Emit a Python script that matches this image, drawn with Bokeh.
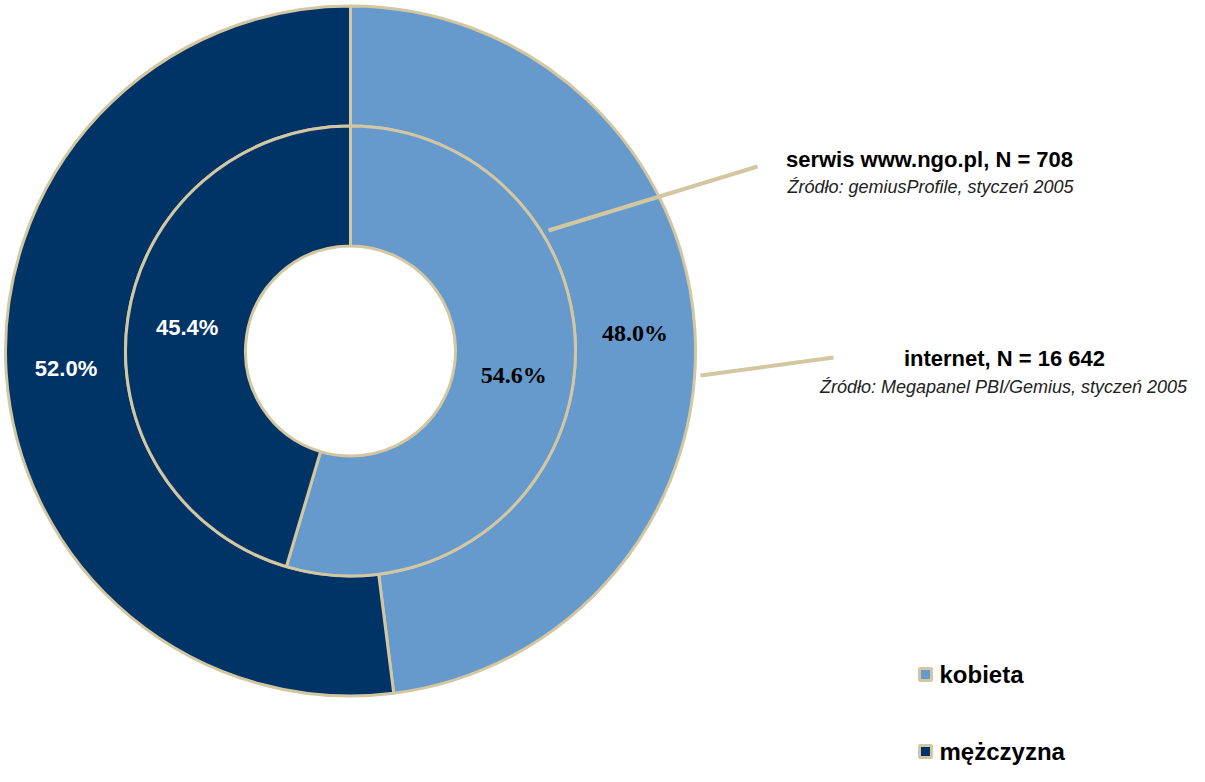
import numpy as np
from bokeh.plotting import figure
from bokeh.models import Range1d, ColumnDataSource
from bokeh.core.properties import value
from bokeh.embed import file_html
from bokeh.resources import INLINE

# ---- data ----
categories = ["kobieta", "mężczyzna"]
colors = ["#6699CC", "#003366"]
internet_pct = [48.0, 52.0]   # outer ring
serwis_pct = [54.6, 45.4]     # inner ring
series_titles = ["serwis www.ngo.pl, N = 708", "internet, N = 16 642"]
series_sources = ["Źródło: gemiusProfile, styczeń 2005",
                  "Źródło: Megapanel PBI/Gemius, styczeń 2005"]

BEIGE = "#D3C7A2"
W, H = 1189, 766
PAGE_H = 782


def Y(py):
    return PAGE_H - py


p = figure(width=W, height=H, output_backend="svg", toolbar_location=None,
           x_range=Range1d(0, W), y_range=Range1d(PAGE_H - H, PAGE_H),
           min_border=0, outline_line_color=None)
p.axis.visible = False
p.grid.visible = False
p.background_fill_color = "white"
p.border_fill_color = "white"

cx, cy = 350, Y(350.5)
r_out, r_mid, r_in = 345, 225, 105


def ring_source(pcts, r0, r1):
    fr = np.array(pcts) / 100.0
    cum = np.concatenate([[0], np.cumsum(fr)])
    start = np.pi / 2 - 2 * np.pi * cum[:-1]
    end = np.pi / 2 - 2 * np.pi * cum[1:]
    mid = (start + end) / 2
    rl = (r0 + r1) / 2
    return ColumnDataSource(dict(
        x=[cx] * len(pcts), y=[cy] * len(pcts), start=start, end=end,
        color=colors, cat=categories,
        lx=cx + rl * np.cos(mid), ly=cy + rl * np.sin(mid),
        lab=[f"{v:.1f}%" for v in pcts]))


outer = ring_source(internet_pct, r_mid, r_out)
inner = ring_source(serwis_pct, r_in, r_mid)

for src, r0, r1 in [(outer, r_mid, r_out), (inner, r_in, r_mid)]:
    p.annular_wedge(x="x", y="y", inner_radius=r0, outer_radius=r1,
                    start_angle="start", end_angle="end", direction="clock",
                    fill_color="color", line_color=BEIGE, line_width=3, source=src)

# percentage labels
for src in (outer, inner):
    d = src.data
    # light wedge: black serif bold
    p.text(x=[d["lx"][0]], y=[d["ly"][0]], text=[d["lab"][0]],
           text_color="black", text_font=value("Liberation Serif"),
           text_font_style="bold", text_font_size="24px",
           text_align="center", text_baseline="middle")
    # dark wedge: white sans bold
    p.text(x=[d["lx"][1]], y=[d["ly"][1]], text=[d["lab"][1]],
           text_color="white", text_font=value("Liberation Sans"),
           text_font_style="bold", text_font_size="22px",
           text_align="center", text_baseline="middle")

# leader lines
p.segment(x0=[548, 700], y0=[Y(230), Y(375)], x1=[757, 833], y1=[Y(166), Y(357)],
          line_color=BEIGE, line_width=4)

# series annotations
p.text(x=[929, 1004], y=[Y(159), Y(358)], text=series_titles,
       text_color="black", text_font=value("Liberation Sans"),
       text_font_style="bold", text_font_size="22px",
       text_align="center", text_baseline="middle")
p.text(x=[930, 1003], y=[Y(186), Y(386)], text=series_sources,
       text_color="#222222", text_font=value("Liberation Sans"),
       text_font_style="italic", text_font_size="18px",
       text_align="center", text_baseline="middle")

# legend
leg_y = [Y(674), Y(751)]
p.rect(x=[925, 925], y=leg_y, width=12, height=12, fill_color=colors,
       line_color=BEIGE, line_width=3)
p.text(x=[939, 939], y=leg_y, text=categories, text_color="black",
       text_font=value("Liberation Sans"), text_font_style="bold",
       text_font_size="24px", text_align="left", text_baseline="middle")

open("out.html", "w").write(file_html(p, INLINE))
